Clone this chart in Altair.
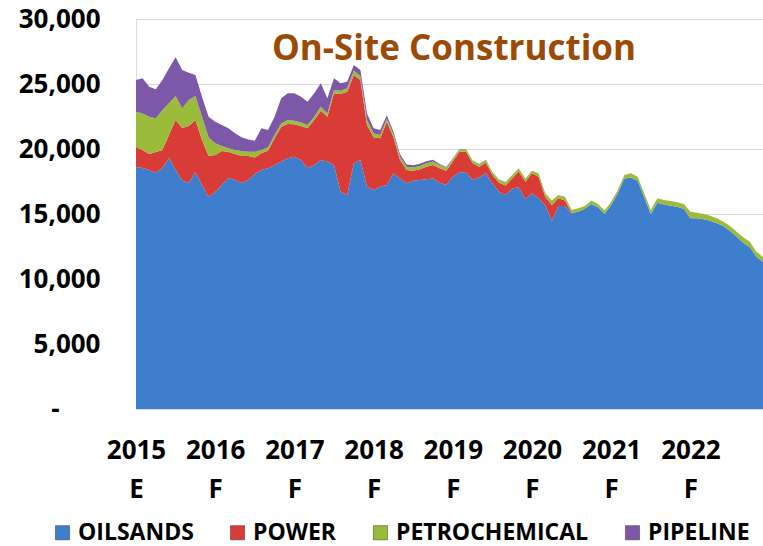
import altair as alt
import pandas as pd

# ---- data (monthly, Jan 2015 = month 0) ----
months = list(range(96))

oilsands = [18620, 18540, 18380, 18150, 18540, 19300, 18400, 17600, 17380, 18230,
            17230, 16310, 16690, 17230, 17770, 17620, 17380, 17620, 18080, 18380,
            18510, 18770, 19030, 19280, 19410, 19150, 18510, 18770, 19150, 19030,
            18770, 16720, 16460, 18900, 19150, 17100, 16850, 17100, 17230, 18130,
            17740, 17360, 17560, 17620, 17670, 17740, 17410, 17230, 17870, 18210,
            18210, 17620, 17800, 18130, 17360, 16720, 16460, 16970, 17050, 16130,
            16590, 16210, 15690, 14490, 15620, 15620, 15050, 15180, 15400, 15770,
            15510, 15000, 15690, 16590, 17740, 17800, 17560, 16280, 15000, 15870,
            15740, 15640, 15560, 15380, 14670, 14670, 14590, 14490, 14280, 14080,
            13690, 13260, 12790, 12440, 11720, 11300]

power = [1530, 1380, 1240, 1620, 1380, 1780, 3830, 4020, 4390, 4000,
         3460, 3150, 2850, 2620, 2000, 2000, 2080, 1840, 1270, 1290,
         1360, 2050, 2690, 2640, 2490, 2620, 3080, 3460, 3800, 3450,
         5510, 7510, 7950, 6790, 6160, 4750, 4050, 3720, 4870, 2770,
         1410, 1020, 770, 820, 970, 1030, 1100, 1100, 1160, 1580,
         1580, 1280, 840, 820, 640, 690, 740, 770, 1210, 1360,
         1540, 1660, 640, 1200, 590, 410, 50, 0, 0, 0,
         0, 0, 0, 0, 0, 0, 0, 0, 0, 0,
         0, 0, 0, 0, 0, 0, 0, 0, 0, 0,
         0, 0, 0, 0, 0, 0]

petrochemical = [2720, 2820, 2860, 2590, 3080, 2430, 1850, 1510, 2000, 1850,
                 1790, 1440, 900, 380, 280, 300, 390, 330, 440, 250,
                 260, 260, 250, 310, 280, 260, 260, 250, 300, 260,
                 260, 260, 260, 340, 310, 380, 310, 260, 250, 250,
                 250, 250, 250, 260, 260, 260, 260, 230, 200, 190,
                 190, 200, 210, 200, 220, 220, 250, 260, 250, 250,
                 200, 260, 260, 340, 250, 300, 210, 260, 220, 260,
                 260, 260, 260, 260, 260, 330, 310, 310, 310, 340,
                 340, 360, 340, 390, 510, 430, 410, 380, 390, 330,
                 390, 380, 420, 430, 380, 400]

pipeline = [2440, 2700, 2310, 2230, 2310, 2700, 2970, 2950, 2100, 1610,
            1540, 1580, 1660, 1620, 1540, 1290, 1050, 950, 850, 1670,
            1330, 1400, 1930, 2050, 2100, 1990, 1790, 1800, 1800, 1160,
            900, 560, 510, 430, 460, 510, 380, 380, 250, 200,
            200, 170, 170, 170, 150, 140, 80, 60, 40, 20,
            20, 20, 20, 20, 20, 20, 20, 0, 0, 0,
            0, 0, 0, 0, 0, 0, 0, 0, 0, 0,
            0, 0, 0, 0, 0, 0, 0, 0, 0, 0,
            0, 0, 0, 0, 0, 0, 0, 0, 0, 0,
            0, 0, 0, 0, 0, 0]

series_names = ["OILSANDS", "POWER", "PETROCHEMICAL", "PIPELINE"]
series_colors = ["#3F7ECD", "#D93C37", "#9BBB3B", "#7E58A8"]

year_ticks = [0, 12, 24, 36, 48, 60, 72, 84]
year_labels = ["2015", "2016", "2017", "2018", "2019", "2020", "2021", "2022"]
year_suffix = ["E", "F", "F", "F", "F", "F", "F", "F"]

y_ticks = [0, 5000, 10000, 15000, 20000, 25000, 30000]

chart_title = "On-Site Construction"

# ---- build long table ----
rows = []
for name, order, vals in zip(series_names, range(4),
                             [oilsands, power, petrochemical, pipeline]):
    for m, v in zip(months, vals):
        rows.append({"month": m, "series": name, "order": order, "value": v})
df = pd.DataFrame(rows)

# x label expression (two-line labels)
expr = "''"
for t, lab, suf in reversed(list(zip(year_ticks, year_labels, year_suffix))):
    expr = f"datum.value == {t} ? ['{lab}', '{suf}'] : {expr}"

y_label_expr = "datum.value == 0 ? '-' : format(datum.value, ',')"

FONT = "Open Sans"

areas = alt.Chart(df).mark_area(interpolate="linear").encode(
    x=alt.X("month:Q",
            scale=alt.Scale(domain=[0, 95], nice=False, zero=False),
            axis=alt.Axis(values=year_ticks, labelExpr=expr, title=None,
                          domain=False, ticks=False, grid=False,
                          labelFont=FONT, labelFontSize=26, labelFontWeight="bold",
                          labelColor="black", labelPadding=28, labelLineHeight=39,
                          labelBaseline="top", labelFlush=False, labelOverlap=False)),
    y=alt.Y("value:Q", stack="zero",
            scale=alt.Scale(domain=[0, 30000], nice=False),
            axis=alt.Axis(values=y_ticks, labelExpr=y_label_expr, title=None,
                          domain=False, ticks=False, grid=True,
                          gridColor="#D9D9D9", gridWidth=1,
                          labelFont=FONT, labelFontSize=26, labelFontWeight="bold",
                          labelColor="black",
                          labelPadding={"condition": {"test": "datum.value === 0",
                                                      "value": 77},
                                        "value": 36})),
    color=alt.Color("series:N",
                    scale=alt.Scale(domain=series_names, range=series_colors),
                    legend=alt.Legend(orient="none", legendX=-85, legendY=502,
                                      direction="horizontal", columns=4, title=None,
                                      symbolType="square", symbolSize=200,
                                      symbolStrokeWidth=0.5, symbolStrokeColor="#333333",
                                      labelFont=FONT, labelFontSize=23,
                                      labelFontWeight="bold", labelColor="black",
                                      labelOffset=4, columnPadding=32, labelLimit=500)),
    order=alt.Order("order:Q", sort="ascending"),
)

title_df = pd.DataFrame({"t": [chart_title]})
title = alt.Chart(title_df).mark_text(
    font=FONT, fontSize=35, fontWeight="bold", color="#9C4A06",
    align="center", baseline="alphabetic"
).encode(text="t:N", x=alt.value(318), y=alt.value(41))

chart = alt.layer(areas, title).properties(
    width=627, height=390,
    autosize=alt.AutoSizeParams(type="none"),
    padding={"left": 136, "top": 19, "right": 0, "bottom": 137},
).configure_view(stroke=None).configure(background="white")

chart.save("out.html", embed_options={"renderer": "svg", "actions": False})
